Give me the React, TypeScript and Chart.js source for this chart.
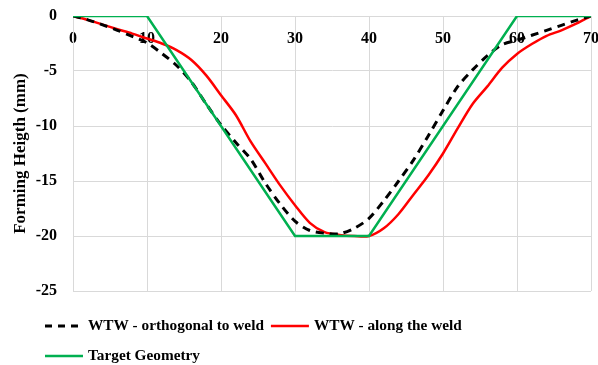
import React, { useEffect, useRef } from "react";
import { Chart, registerables } from "chart.js";

Chart.register(...registerables);

const FONT_FAMILY = '"Liberation Serif", "Times New Roman", serif';

// Shared x positions (mm) for the measured profiles
const measuredX = [
  0, 2, 4, 6, 8, 10, 12, 14, 16, 18, 20, 22, 24, 26, 28, 30, 32, 34, 36,
  38, 40, 42, 44, 46, 48, 50, 52, 54, 56, 58, 60, 62, 64, 66, 68, 70,
];

// WTW - orthogonal to weld (black dashed)
const orthogonalToWeld = [
  0, -0.35, -0.8, -1.3, -1.85, -2.45, -3.4, -4.5, -6.0, -8.0, -9.9, -11.5,
  -13.0, -15.2, -17.1, -18.65, -19.5, -19.75, -19.8, -19.3, -18.4, -16.8,
  -15.0, -13.1, -10.9, -8.6, -6.4, -4.9, -3.6, -2.6, -2.2, -1.75, -1.3,
  -0.85, -0.4, 0,
];

// WTW - along the weld (red)
const alongTheWeld = [
  0, -0.35, -0.78, -1.2, -1.6, -2.05, -2.5, -3.1, -4.0, -5.4, -7.2, -9.0,
  -11.4, -13.4, -15.4, -17.2, -18.8, -19.65, -19.9, -20.0, -20.0, -19.3,
  -18.0, -16.25, -14.5, -12.5, -10.2, -8.0, -6.4, -4.7, -3.45, -2.55, -1.8,
  -1.3, -0.7, 0,
];

// Target Geometry (green)
const targetX = [0, 10, 30, 40, 60, 70];
const targetY = [0, 0, -20, -20, 0, 0];

const seriesLabels = [
  "WTW - orthogonal to weld",
  "WTW - along the weld",
  "Target Geometry",
];

const xMin = 0;
const xMax = 70;
const xStep = 10;
const yMin = -25;
const yMax = 0;
const yStep = 5;

const GRID = "#d9d9d9";
const BLACK = "#000000";
const RED = "#ff0000";
const GREEN = "#00b050";

const legendItems = [
  { label: seriesLabels[0], color: BLACK, dash: [7, 6], width: 3, row: 0 },
  { label: seriesLabels[1], color: RED, dash: [], width: 2.5, row: 0 },
  { label: seriesLabels[2], color: GREEN, dash: [], width: 2.5, row: 1 },
];

const legendPlugin = {
  id: "customLegend",
  afterDraw(chart: any) {
    const ctx = chart.ctx as CanvasRenderingContext2D;
    ctx.save();
    ctx.font = `bold 15.3px ${FONT_FAMILY}`;
    ctx.textBaseline = "middle";
    ctx.textAlign = "left";
    const rowY = [326, 356];
    const startX = 45;
    const lineLen = 38;
    const cursor = [startX, startX];
    for (const item of legendItems) {
      const y = rowY[item.row];
      let x = cursor[item.row];
      ctx.beginPath();
      ctx.strokeStyle = item.color;
      ctx.lineWidth = item.width;
      ctx.setLineDash(item.dash);
      ctx.moveTo(x, y);
      ctx.lineTo(x + lineLen, y);
      ctx.stroke();
      ctx.setLineDash([]);
      x += lineLen + 5;
      ctx.fillStyle = "#000";
      ctx.fillText(item.label, x, y);
      x += ctx.measureText(item.label).width + 7;
      cursor[item.row] = x;
    }
    ctx.restore();
  },
};

export default function App() {
  const canvasRef = useRef<HTMLCanvasElement | null>(null);

  useEffect(() => {
    document.body.style.margin = "0";
    const canvas = canvasRef.current;
    if (!canvas) return;

    const chart = new Chart(canvas, {
      type: "line",
      data: {
        datasets: [
          {
            label: seriesLabels[2],
            data: targetX.map((x, i) => ({ x, y: targetY[i] })),
            borderColor: GREEN,
            borderWidth: 2.5,
            pointRadius: 0,
            tension: 0,
            order: 0,
          },
          {
            label: seriesLabels[0],
            data: measuredX.map((x, i) => ({ x, y: orthogonalToWeld[i] })),
            borderColor: BLACK,
            borderWidth: 3,
            borderDash: [8, 6],
            pointRadius: 0,
            tension: 0.3,
            order: 1,
          },
          {
            label: seriesLabels[1],
            data: measuredX.map((x, i) => ({ x, y: alongTheWeld[i] })),
            borderColor: RED,
            borderWidth: 2.5,
            pointRadius: 0,
            tension: 0.3,
            order: 2,
          },
        ],
      },
      options: {
        animation: false,
        responsive: false,
        maintainAspectRatio: false,
        layout: { padding: { left: 0, right: 7, top: 16, bottom: 74 } },
        plugins: {
          legend: { display: false },
          tooltip: { enabled: false },
        },
        scales: {
          x: {
            type: "linear",
            position: { y: 0 } as any,
            min: xMin,
            max: xMax,
            grid: { color: GRID, lineWidth: 1, drawTicks: false },
            border: { color: GRID, width: 1 },
            ticks: {
              stepSize: xStep,
              padding: 13,
              color: "#000",
              maxRotation: 0,
              font: { family: FONT_FAMILY, size: 16, weight: "bold" },
            },
            afterFit(scale: any) {
              scale.paddingLeft = 0;
              scale.paddingRight = 0;
            },
          },
          y: {
            type: "linear",
            position: "left",
            min: yMin,
            max: yMax,
            grid: { color: GRID, lineWidth: 1, drawTicks: false },
            border: { color: GRID, width: 1 },
            ticks: {
              stepSize: yStep,
              padding: 16,
              color: "#000",
              font: { family: FONT_FAMILY, size: 16, weight: "bold" },
            },
            title: {
              display: true,
              text: "Forming Heigth (mm)",
              color: "#000",
              padding: { top: 10, bottom: 0 },
              font: { family: FONT_FAMILY, size: 17, weight: "bold" },
            },
            afterFit(scale: any) {
              scale.width = 73;
              scale.paddingTop = 0;
              scale.paddingBottom = 0;
            },
          },
        },
      },
      plugins: [legendPlugin],
    });

    return () => {
      chart.destroy();
    };
  }, []);

  return (
    <div style={{ width: 598, height: 365, position: "relative" }}>
      <canvas ref={canvasRef} width={598} height={365} />
    </div>
  );
}
